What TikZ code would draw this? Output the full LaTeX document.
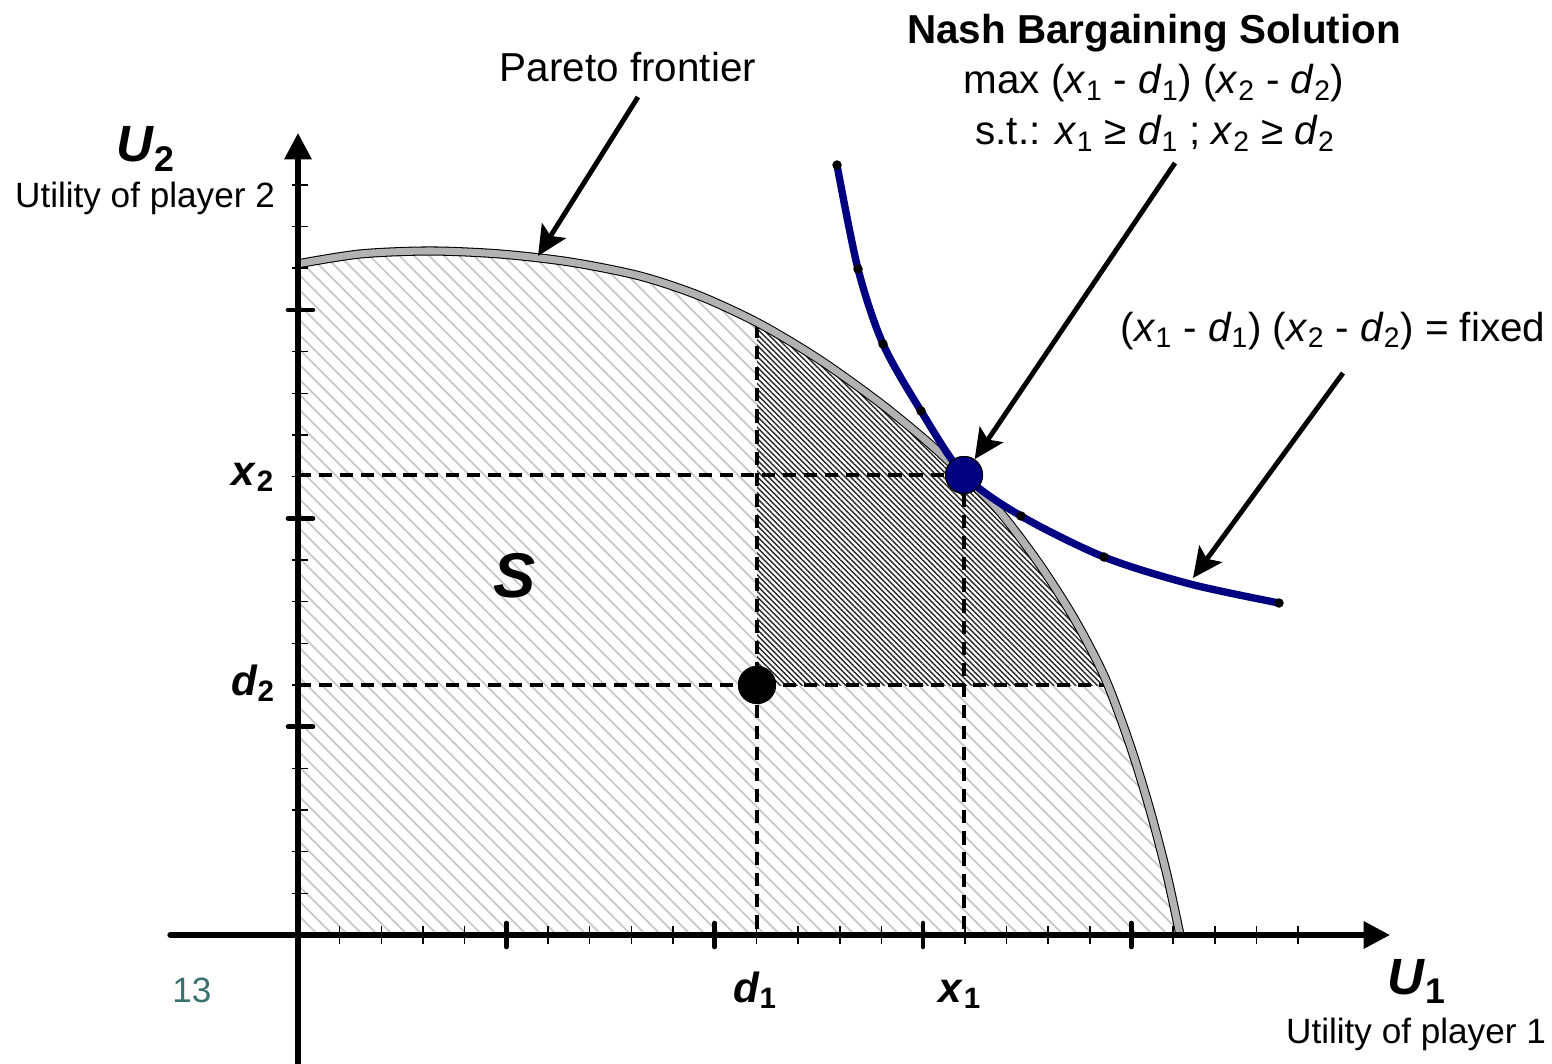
\documentclass[tikz,border=0pt]{standalone}
\usepackage{fontspec}
\setmainfont{Liberation Sans}
\usetikzlibrary{arrows.meta,patterns.meta,positioning,calc}
\definecolor{nashblue}{RGB}{0,0,128}
\definecolor{frontgray}{RGB}{178,178,178}
\definecolor{pagenum}{RGB}{58,112,112}

\begin{document}
\begin{tikzpicture}[x=0.02cm, y=-0.02cm,
    axis/.style={line width=3pt, line cap=round, -{Triangle[length=15pt,width=15pt]}},
    tick/.style={line width=0.9pt},
    bigtick/.style={line width=2.6pt, line cap=round},
    guide/.style={line width=1.9pt, dash pattern=on 7.5pt off 4.5pt},
    arrow/.style={line width=2.8pt, -{Stealth[length=17pt,width=16pt,inset=3.5pt]}},
    frontier/.style={line width=0.6pt, double=frontgray, double distance=4pt},
    curve/.style={line width=4.2pt, nashblue, line cap=round},
    txt/.style={font=\fontsize{23}{27}\selectfont, inner sep=0pt, anchor=base},
    small/.style={font=\fontsize{20}{24}\selectfont, inner sep=0pt, anchor=base},
    var/.style={font=\fontsize{24}{28}\selectfont\bfseries, inner sep=0pt, anchor=base},
    dot/.style={circle, draw=black, line width=0.6pt, minimum size=0.74cm, inner sep=0pt},
    knot/.style={circle, fill=black, minimum size=0.19cm, inner sep=0pt}
  ]
\useasboundingbox (0,0) rectangle (1552,1064);

% feasible set S
\path[save path=\Sregion] (298,935) -- (298,264) -- plot[smooth] coordinates {(297,264) (360,254) (430,251) (500,254) (570,262) (640,276) (700,296) (760,324) (820,360) (880,403) (930,444) (964,476) (1000,512) (1040,565) (1075,620) (1105,678) (1130,745) (1150,810) (1167,875) (1180,935)} -- cycle;
\fill[pattern={Lines[angle=-45,distance=6pt,line width=1pt]}, pattern color=black!22, use path=\Sregion];
\begin{scope}
  \clip (757,685) rectangle (1400,100);
  \fill[white, use path=\Sregion];
  \fill[pattern={Lines[angle=-45,distance=2.2pt,line width=0.8pt]}, pattern color=black!85, use path=\Sregion];
\end{scope}

\coordinate (origin) at (298,935);
\coordinate (xaxleft) at (170,935);
\coordinate (xaxright) at (1390,935);
\coordinate (yaxbot) at (298,1064);
\coordinate (yaxtop) at (298,133);
\coordinate (dtop) at (757,325);
\coordinate (dend) at (1114,685);

\node[dot, fill=black] (dpt) at (757,685) {};
\node[dot, fill=nashblue] (nbs) at (964,475) {};

% guides
\draw[guide] (origin |- nbs) -- (nbs);
\draw[guide] (nbs) -- (nbs |- origin);
\draw[guide] (origin |- dpt) -- (dend);
\draw[guide] (dtop) -- (dtop |- origin);

% Pareto frontier
\draw[frontier] plot[smooth] coordinates {(297,264) (360,254) (430,251) (500,254) (570,262) (640,276) (700,296) (760,324) (820,360) (880,403) (930,444) (964,476) (1000,512) (1040,565) (1075,620) (1105,678) (1130,745) (1150,810) (1167,875) (1180,935)};

% axes
\draw[axis] (xaxleft) -- (xaxright);
\draw[axis] (yaxbot) -- (yaxtop);
\foreach \i in {1,...,24}
  \draw[tick] (298+41.67*\i,926) -- (298+41.67*\i,944);
\foreach \i in {5,10,15,20}
  \draw[bigtick] (298+41.67*\i,923) -- (298+41.67*\i,947);
\foreach \k in {1,...,18}
  \draw[tick] (292,935-41.67*\k) -- (308,935-41.67*\k);
\foreach \k in {5,10,15}
  \draw[bigtick] (288,935-41.67*\k) -- (313,935-41.67*\k);

% iso-product curve
\draw[curve] plot[smooth] coordinates {(837,165) (858,269) (883,344) (921,411) (964,475) (1021,516) (1104,557) (1190,584) (1279,603)};
\foreach \p in {(837,165),(858,269),(883,344),(921,411),(1021,516),(1104,557),(1279,603)}
  \node[knot] at \p {};

% points on top
\node[dot, fill=black] at (dpt) {};
\node[dot, fill=nashblue] at (nbs) {};

% arrows
\coordinate (paretoTail) at (638,97);
\coordinate (paretoTip) at (538,256);
\coordinate (nbsTail) at (1175,163);
\coordinate (fixedTail) at (1343,373);
\coordinate (fixedTip) at (1193,578);
\draw[arrow] (paretoTail) -- (paretoTip);
\draw[arrow] (nbsTail) -- (nbs);
\draw[arrow] (fixedTail) -- (fixedTip);

% labels
\node[txt] (paretolbl) at (628,82) {Pareto frontier};
\node[txt] (nbstitle) at (1154,44) {\textbf{Nash Bargaining Solution}};
\node[txt] (nbsmax) at (1154,94) {max (\textit{x}\textsubscript{1} - \textit{d}\textsubscript{1}) (\textit{x}\textsubscript{2} - \textit{d}\textsubscript{2})};
\node[txt] (nbsst) at (1155,145) {s.t.: \textit{x}\textsubscript{1} ≥ \textit{d}\textsubscript{1} ; \textit{x}\textsubscript{2} ≥ \textit{d}\textsubscript{2}};
\node[txt] (fixedlbl) at (1333,341) {(\textit{x}\textsubscript{1} - \textit{d}\textsubscript{1}) (\textit{x}\textsubscript{2} - \textit{d}\textsubscript{2}) = fixed};

\node[var, font=\fontsize{29}{33}\selectfont\bfseries] (u2) at (146,162) {\textit{U}\textsubscript{2}};
\node[small] (u2txt) at (145,208) {Utility of player 2};
\node[var, font=\fontsize{29}{33}\selectfont\bfseries] (u1) at (1417,994) {\textit{U}\textsubscript{1}};
\node[small] (u1txt) at (1416,1043) {Utility of player 1};

\node[var] (x2lbl) at (253,485) {\textit{x}\textsubscript{2}};
\node[var] (d2lbl) at (253,695) {\textit{d}\textsubscript{2}};
\node[var] (d1lbl) at (755,1002) {\textit{d}\textsubscript{1}};
\node[var] (x1lbl) at (960,1002) {\textit{x}\textsubscript{1}};
\node[var, font=\fontsize{36}{40}\selectfont\bfseries\itshape] (slbl) at (515,597) {S};
\node[small, text=pagenum] (pagelbl) at (192,1002) {13};
\end{tikzpicture}
\end{document}
